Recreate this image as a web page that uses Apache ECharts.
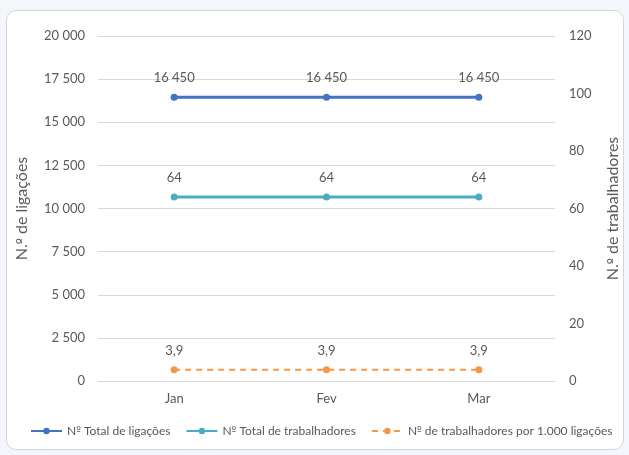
<!DOCTYPE html>
<html>
<head>
<meta charset="utf-8">
<script src="https://cdn.jsdelivr.net/npm/echarts@6/dist/echarts.min.js"></script>
<style>
  html, body { margin: 0; padding: 0; background: #f3f7fc; }
  #card { position: absolute; left: 6px; top: 10px; width: 618px; height: 440px; background: #fff;
          border: 1px solid #d6d6d6; border-radius: 10px; box-sizing: border-box; }
  #chart { position: absolute; left: 0; top: 0; width: 629px; height: 455px; }
</style>
</head>
<body>
<div id="card"></div>
<div id="chart"></div>
<script>
// Monthly categories
const months = ['Jan', 'Fev', 'Mar'];
// Series values
const totalLigacoes = [16450, 16450, 16450];
const totalTrabalhadores = [64, 64, 64];
const trabPor1000 = [3.9, 3.9, 3.9];
// Series names and axis titles
const seriesNames = ['Nº Total de ligações', 'Nº Total de trabalhadores', 'Nº de trabalhadores por 1.000 ligações'];
const leftAxisName = 'N.º de ligações';
const rightAxisName = 'N.º de trabalhadores';

const font = 'Lato, "Open Sans", sans-serif';
const ordFont = '"DejaVu Sans", sans-serif';
const textColor = '#595959';

function fmtThousands(v) {
  return String(Math.round(v)).replace(/\B(?=(\d{3})+(?!\d))/g, ' ');
}
function fmtDecimal(v) {
  return v.toFixed(1).replace('.', ',');
}
// Draw the ordinal indicator with a font whose glyph is underlined
function withOrdinal(s) {
  return s.replace('º', '{o|º}');
}

const chart = echarts.init(document.getElementById('chart'), null, { renderer: 'canvas' });
chart.setOption({
  backgroundColor: 'transparent',
  textStyle: { fontFamily: font, color: textColor },
  grid: { left: 98, right: 73, top: 36, bottom: 74, containLabel: false },
  legend: {
    bottom: 13,
    left: 25,
    itemWidth: 31,
    itemHeight: 8,
    itemGap: 15,
    formatter: withOrdinal,
    textStyle: { fontFamily: font, fontSize: 12, color: textColor,
                 rich: { o: { fontFamily: ordFont, fontSize: 10, color: textColor } } },
    data: seriesNames
  },
  xAxis: {
    type: 'category',
    data: months,
    boundaryGap: true,
    axisLine: { show: true, lineStyle: { color: '#d9d9d9' } },
    axisTick: { show: false },
    axisLabel: { fontFamily: font, fontSize: 13, color: textColor, margin: 11 }
  },
  yAxis: [
    {
      type: 'value',
      min: 0, max: 20000, interval: 2500,
      name: withOrdinal(leftAxisName),
      nameLocation: 'middle',
      nameGap: 68,
      nameTextStyle: { fontFamily: font, fontSize: 16, color: textColor,
                       rich: { o: { fontFamily: ordFont, fontSize: 13, color: textColor } } },
      axisLine: { show: false },
      axisTick: { show: false },
      splitLine: { lineStyle: { color: '#d9d9d9' } },
      axisLabel: { fontFamily: font, fontSize: 13, color: textColor, margin: 13, formatter: fmtThousands }
    },
    {
      type: 'value',
      min: 0, max: 120, interval: 20,
      name: withOrdinal(rightAxisName),
      nameLocation: 'middle',
      nameGap: 50,
      nameRotate: 90,
      nameTextStyle: { fontFamily: font, fontSize: 16, color: textColor,
                       rich: { o: { fontFamily: ordFont, fontSize: 13, color: textColor } } },
      axisLine: { show: false },
      axisTick: { show: false },
      splitLine: { show: false },
      axisLabel: { fontFamily: font, fontSize: 13, color: textColor, margin: 14 }
    }
  ],
  series: [
    {
      name: seriesNames[0],
      type: 'line',
      yAxisIndex: 0,
      data: totalLigacoes,
      symbol: 'circle',
      symbolSize: 7,
      color: '#4472c4',
      lineStyle: { width: 3, color: '#4472c4' },
      itemStyle: { color: '#4472c4' },
      label: { show: true, position: 'top', distance: 9, fontFamily: font, fontSize: 13, color: textColor,
               formatter: p => fmtThousands(p.value) }
    },
    {
      name: seriesNames[1],
      type: 'line',
      yAxisIndex: 1,
      data: totalTrabalhadores,
      symbol: 'circle',
      symbolSize: 7,
      color: '#4bacc6',
      lineStyle: { width: 3, color: '#4bacc6' },
      itemStyle: { color: '#4bacc6' },
      label: { show: true, position: 'top', distance: 9, fontFamily: font, fontSize: 13, color: textColor }
    },
    {
      name: seriesNames[2],
      type: 'line',
      yAxisIndex: 1,
      data: trabPor1000,
      symbol: 'circle',
      symbolSize: 7,
      color: '#f79646',
      lineStyle: { width: 2, type: [6, 5], color: '#f79646' },
      itemStyle: { color: '#f79646' },
      label: { show: true, position: 'top', distance: 9, fontFamily: font, fontSize: 13, color: textColor,
               formatter: p => fmtDecimal(p.value) }
    }
  ]
});
</script>
</body>
</html>
